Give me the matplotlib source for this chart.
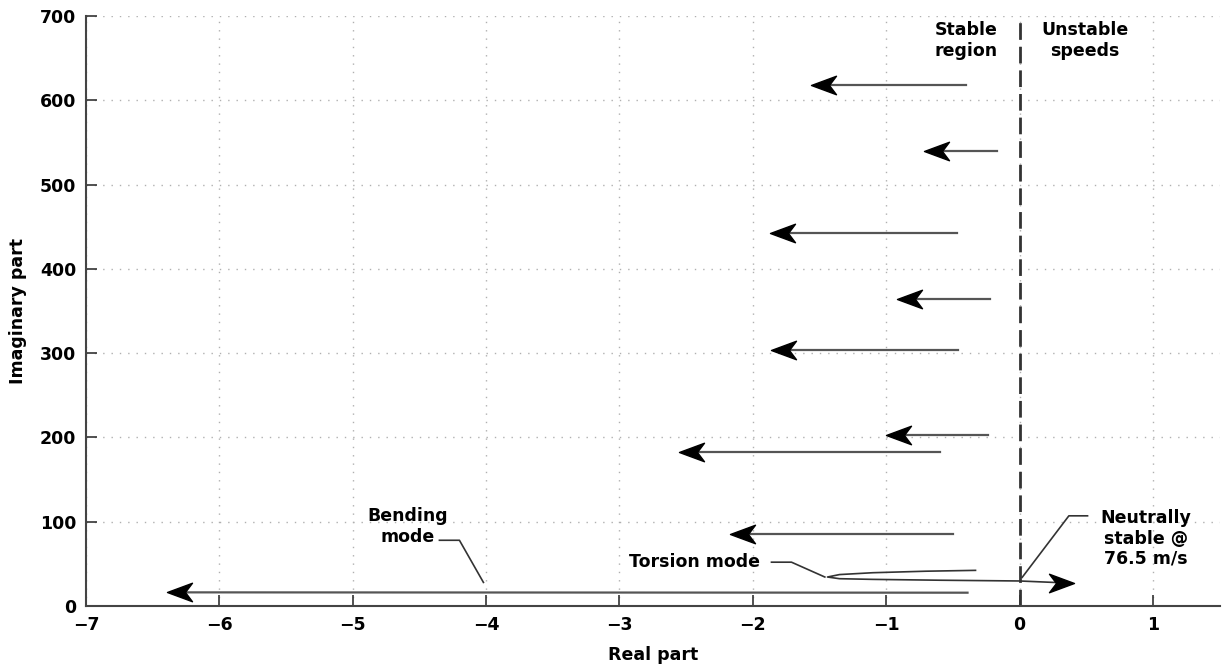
import numpy as np
import matplotlib
matplotlib.use("Agg")
import matplotlib.pyplot as plt
from matplotlib.path import Path

plt.rcParams['font.family'] = ['DejaVu Sans']
plt.rcParams['font.weight'] = 'bold'

# mode arrows: start (right end) -> tip (left end)
arrow_y = [618, 540, 442, 364, 304, 203, 183, 85]
arrow_start = [-0.40, -0.17, -0.47, -0.22, -0.46, -0.24, -0.60, -0.50]
arrow_tip = [-1.56, -0.72, -1.87, -0.92, -1.86, -1.00, -2.55, -2.17]

# bending mode
bend_x = [-0.39, -6.39]
bend_y = [15.8, 16.2]

# torsion mode hairpin
tors_x = [-0.33, -0.7, -1.1, -1.35, -1.44, -1.35, -1.1, -0.6, 0.0, 0.41]
tors_y = [42.3, 41.3, 39.5, 37.3, 34.4, 32.4, 31.6, 30.6, 29.7, 27.3]

xticks = [-7, -6, -5, -4, -3, -2, -1, 0, 1]
yticks = [0, 100, 200, 300, 400, 500, 600, 700]

# barbed arrowhead, tip at origin pointing left
head_left = Path([(0, 0), (1.0, 0.37), (0.72, 0), (1.0, -0.37), (0, 0)],
                 [Path.MOVETO, Path.LINETO, Path.LINETO, Path.LINETO, Path.CLOSEPOLY])
head_right = Path([(0, 0), (-1.0, 0.37), (-0.72, 0), (-1.0, -0.37), (0, 0)],
                  [Path.MOVETO, Path.LINETO, Path.LINETO, Path.LINETO, Path.CLOSEPOLY])

fig = plt.figure(figsize=(12.22, 6.68), dpi=100)
ax = fig.add_axes([0.0704, 0.0928, 0.9276, 0.8832])

line_c = '#555555'
for y, x0, x1 in zip(arrow_y, arrow_start, arrow_tip):
    ax.plot([x0, x1 + 0.05], [y, y], color=line_c, lw=1.6, zorder=3)
    ax.plot([x1], [y], marker=head_left, ms=36, color='black', mec='black', zorder=4)

ax.plot([bend_x[0], bend_x[1] + 0.05], bend_y, color=line_c, lw=1.6, zorder=3)
ax.plot([bend_x[1]], [bend_y[1]], marker=head_left, ms=36, color='black', mec='black', zorder=4)

ax.plot(tors_x[:-1] + [tors_x[-1] - 0.05], tors_y, color='#333333', lw=1.2, zorder=3)
ax.plot([tors_x[-1]], [tors_y[-1]], marker=head_right, ms=36, color='black', mec='black', zorder=4)

# stability boundary
ax.axvline(0, color='#333333', lw=2, ls=(0, (6, 2.5)), zorder=2)

ax.set_xlim(-7, 1.5)
ax.set_ylim(0, 700)
ax.set_xticks(xticks)
ax.set_yticks(yticks)
ax.set_xticklabels(['\u2212%d' % -t if t < 0 else str(t) for t in xticks])
ax.grid(True, color='#b0b0b0', ls=(0, (1, 5)), lw=1)
ax.set_axisbelow(True)
ax.tick_params(direction='in', length=8, width=1.2, labelsize=12.5, color='#333333', pad=7)
for s in ['top', 'right']:
    ax.spines[s].set_visible(False)
for s in ['left', 'bottom']:
    ax.spines[s].set_color('#444444')
    ax.spines[s].set_linewidth(1.5)
ax.set_xlabel('Real part', fontsize=12.5, fontweight='bold', labelpad=9)
ax.set_ylabel('Imaginary part', fontsize=12.5, fontweight='bold', labelpad=9)

fs = 12.5
ax.text(-0.40, 671, 'Stable\nregion', ha='center', va='center', fontsize=fs, linespacing=1.2)
ax.text(0.49, 671, 'Unstable\nspeeds', ha='center', va='center', fontsize=fs, linespacing=1.2)

ax.text(-4.59, 94, 'Bending\nmode', ha='center', va='center', fontsize=fs, linespacing=1.2)
ax.plot([-4.35, -4.20, -4.02], [78, 78, 28], color='#333333', lw=1.2)

ax.text(-2.44, 52, 'Torsion mode', ha='center', va='center', fontsize=fs)
ax.plot([-1.86, -1.71, -1.46], [52, 52, 34.4], color='#333333', lw=1.2)

ax.text(0.95, 80, 'Neutrally\nstable @\n76.5 m/s', ha='center', va='center', fontsize=fs, linespacing=1.15)
ax.plot([0.51, 0.37, 0.02], [107, 107, 34], color='#333333', lw=1.2)

fig.savefig('out.png', dpi=100)
